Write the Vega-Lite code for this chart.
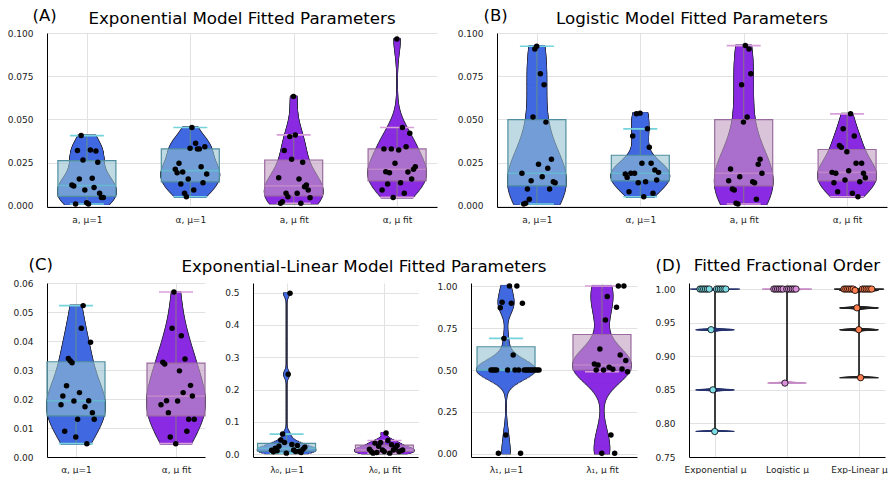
{
"$schema": "https://vega.github.io/schema/vega-lite/v6.json",
"padding": {"left": 7, "top": 7, "right": 0, "bottom": 0},
"background": "white",
"spacing": 32,
"datasets": {
"A": [
{"cat":"a, μ=1","grp":"m1","id":1,"v":0.012},{"cat":"a, μ=1","grp":"m1","id":2,"v":0.0114},{"cat":"a, μ=1","grp":"m1","id":3,"v":0.001},{"cat":"a, μ=1","grp":"m1","id":4,"v":0.0319},{"cat":"a, μ=1","grp":"m1","id":5,"v":0.0155},{"cat":"a, μ=1","grp":"m1","id":6,"v":0.0406},{"cat":"a, μ=1","grp":"m1","id":7,"v":0.0265},{"cat":"a, μ=1","grp":"m1","id":8,"v":0.0091},{"cat":"a, μ=1","grp":"m1","id":9,"v":0.0017},{"cat":"a, μ=1","grp":"m1","id":10,"v":0.001},{"cat":"a, μ=1","grp":"m1","id":11,"v":0.0323},{"cat":"a, μ=1","grp":"m1","id":12,"v":0.0159},{"cat":"a, μ=1","grp":"m1","id":13,"v":0.0106},{"cat":"a, μ=1","grp":"m1","id":14,"v":0.0317},{"cat":"a, μ=1","grp":"m1","id":15,"v":0.0251},{"cat":"a, μ=1","grp":"m1","id":16,"v":0.0072},{"cat":"a, μ=1","grp":"m1","id":17,"v":0.0048},{"cat":"a, μ=1","grp":"m1","id":18,"v":0.0048},
{"cat":"α, μ=1","grp":"m1","id":1,"v":0.0211},{"cat":"α, μ=1","grp":"m1","id":2,"v":0.0191},{"cat":"α, μ=1","grp":"m1","id":3,"v":0.0246},{"cat":"α, μ=1","grp":"m1","id":4,"v":0.0126},{"cat":"α, μ=1","grp":"m1","id":5,"v":0.0195},{"cat":"α, μ=1","grp":"m1","id":6,"v":0.0072},{"cat":"α, μ=1","grp":"m1","id":7,"v":0.0052},{"cat":"α, μ=1","grp":"m1","id":8,"v":0.0155},{"cat":"α, μ=1","grp":"m1","id":9,"v":0.0333},{"cat":"α, μ=1","grp":"m1","id":10,"v":0.0453},{"cat":"α, μ=1","grp":"m1","id":11,"v":0.0091},{"cat":"α, μ=1","grp":"m1","id":12,"v":0.0362},{"cat":"α, μ=1","grp":"m1","id":13,"v":0.0329},{"cat":"α, μ=1","grp":"m1","id":14,"v":0.0329},{"cat":"α, μ=1","grp":"m1","id":15,"v":0.0226},{"cat":"α, μ=1","grp":"m1","id":16,"v":0.0133},{"cat":"α, μ=1","grp":"m1","id":17,"v":0.0342},{"cat":"α, μ=1","grp":"m1","id":18,"v":0.0184},
{"cat":"a, μ fit","grp":"fit","id":1,"v":0.0162},{"cat":"a, μ fit","grp":"fit","id":2,"v":0.0014},{"cat":"a, μ fit","grp":"fit","id":3,"v":0.0023},{"cat":"a, μ fit","grp":"fit","id":4,"v":0.0319},{"cat":"a, μ fit","grp":"fit","id":5,"v":0.0072},{"cat":"a, μ fit","grp":"fit","id":6,"v":0.0052},{"cat":"a, μ fit","grp":"fit","id":7,"v":0.04},{"cat":"a, μ fit","grp":"fit","id":8,"v":0.0269},{"cat":"a, μ fit","grp":"fit","id":9,"v":0.0632},{"cat":"a, μ fit","grp":"fit","id":10,"v":0.041},{"cat":"a, μ fit","grp":"fit","id":11,"v":0.0072},{"cat":"a, μ fit","grp":"fit","id":12,"v":0.0155},{"cat":"a, μ fit","grp":"fit","id":13,"v":0.0014},{"cat":"a, μ fit","grp":"fit","id":14,"v":0.0251},{"cat":"a, μ fit","grp":"fit","id":15,"v":0.011},{"cat":"a, μ fit","grp":"fit","id":16,"v":0.012},{"cat":"a, μ fit","grp":"fit","id":17,"v":0.0091},{"cat":"a, μ fit","grp":"fit","id":18,"v":0.0046},
{"cat":"α, μ fit","grp":"fit","id":1,"v":0.0091},{"cat":"α, μ fit","grp":"fit","id":2,"v":0.0329},{"cat":"α, μ fit","grp":"fit","id":3,"v":0.0197},{"cat":"α, μ fit","grp":"fit","id":4,"v":0.0126},{"cat":"α, μ fit","grp":"fit","id":5,"v":0.0191},{"cat":"α, μ fit","grp":"fit","id":6,"v":0.0329},{"cat":"α, μ fit","grp":"fit","id":7,"v":0.0048},{"cat":"α, μ fit","grp":"fit","id":8,"v":0.0246},{"cat":"α, μ fit","grp":"fit","id":9,"v":0.0965},{"cat":"α, μ fit","grp":"fit","id":10,"v":0.0323},{"cat":"α, μ fit","grp":"fit","id":11,"v":0.0133},{"cat":"α, μ fit","grp":"fit","id":12,"v":0.0453},{"cat":"α, μ fit","grp":"fit","id":13,"v":0.0072},{"cat":"α, μ fit","grp":"fit","id":14,"v":0.0342},{"cat":"α, μ fit","grp":"fit","id":15,"v":0.0195},{"cat":"α, μ fit","grp":"fit","id":16,"v":0.042},{"cat":"α, μ fit","grp":"fit","id":17,"v":0.0155},{"cat":"α, μ fit","grp":"fit","id":18,"v":0.0211},{"cat":"α, μ fit","grp":"fit","id":19,"v":0.0226}
],
"B": [
{"cat":"a, μ=1","grp":"m1","id":1,"v":0.0188},{"cat":"a, μ=1","grp":"m1","id":2,"v":0.001},{"cat":"a, μ=1","grp":"m1","id":3,"v":0.0014},{"cat":"a, μ=1","grp":"m1","id":4,"v":0.0097},{"cat":"a, μ=1","grp":"m1","id":5,"v":0.0037},{"cat":"a, μ=1","grp":"m1","id":6,"v":0.0145},{"cat":"a, μ=1","grp":"m1","id":7,"v":0.0513},{"cat":"a, μ=1","grp":"m1","id":8,"v":0.0907},{"cat":"a, μ=1","grp":"m1","id":9,"v":0.0923},{"cat":"a, μ=1","grp":"m1","id":10,"v":0.024},{"cat":"a, μ=1","grp":"m1","id":11,"v":0.0764},{"cat":"a, μ=1","grp":"m1","id":12,"v":0.0168},{"cat":"a, μ=1","grp":"m1","id":13,"v":0.07},{"cat":"a, μ=1","grp":"m1","id":14,"v":0.0484},{"cat":"a, μ=1","grp":"m1","id":15,"v":0.0217},{"cat":"a, μ=1","grp":"m1","id":16,"v":0.0097},{"cat":"a, μ=1","grp":"m1","id":17,"v":0.0269},{"cat":"a, μ=1","grp":"m1","id":18,"v":0.0139},{"cat":"a, μ=1","grp":"m1","id":19,"v":0.0133},
{"cat":"α, μ=1","grp":"m1","id":1,"v":0.0184},{"cat":"α, μ=1","grp":"m1","id":2,"v":0.0164},{"cat":"α, μ=1","grp":"m1","id":3,"v":0.0081},{"cat":"α, μ=1","grp":"m1","id":4,"v":0.0188},{"cat":"α, μ=1","grp":"m1","id":5,"v":0.0404},{"cat":"α, μ=1","grp":"m1","id":6,"v":0.0188},{"cat":"α, μ=1","grp":"m1","id":7,"v":0.0532},{"cat":"α, μ=1","grp":"m1","id":8,"v":0.0133},{"cat":"α, μ=1","grp":"m1","id":9,"v":0.0536},{"cat":"α, μ=1","grp":"m1","id":10,"v":0.0246},{"cat":"α, μ=1","grp":"m1","id":11,"v":0.0052},{"cat":"α, μ=1","grp":"m1","id":12,"v":0.0139},{"cat":"α, μ=1","grp":"m1","id":13,"v":0.0445},{"cat":"α, μ=1","grp":"m1","id":14,"v":0.0338},{"cat":"α, μ=1","grp":"m1","id":15,"v":0.0246},{"cat":"α, μ=1","grp":"m1","id":16,"v":0.0072},{"cat":"α, μ=1","grp":"m1","id":17,"v":0.0207},{"cat":"α, μ=1","grp":"m1","id":18,"v":0.0149},{"cat":"α, μ=1","grp":"m1","id":19,"v":0.0193},
{"cat":"a, μ fit","grp":"fit","id":1,"v":0.0145},{"cat":"a, μ fit","grp":"fit","id":2,"v":0.0213},{"cat":"a, μ fit","grp":"fit","id":3,"v":0.0097},{"cat":"a, μ fit","grp":"fit","id":4,"v":0.0091},{"cat":"a, μ fit","grp":"fit","id":5,"v":0.0014},{"cat":"a, μ fit","grp":"fit","id":6,"v":0.001},{"cat":"a, μ fit","grp":"fit","id":7,"v":0.0168},{"cat":"a, μ fit","grp":"fit","id":8,"v":0.07},{"cat":"a, μ fit","grp":"fit","id":9,"v":0.0484},{"cat":"a, μ fit","grp":"fit","id":10,"v":0.0927},{"cat":"a, μ fit","grp":"fit","id":11,"v":0.0513},{"cat":"a, μ fit","grp":"fit","id":12,"v":0.0907},{"cat":"a, μ fit","grp":"fit","id":13,"v":0.0764},{"cat":"a, μ fit","grp":"fit","id":14,"v":0.0139},{"cat":"a, μ fit","grp":"fit","id":15,"v":0.0133},{"cat":"a, μ fit","grp":"fit","id":16,"v":0.0037},{"cat":"a, μ fit","grp":"fit","id":17,"v":0.024},{"cat":"a, μ fit","grp":"fit","id":18,"v":0.0269},{"cat":"a, μ fit","grp":"fit","id":19,"v":0.0188},
{"cat":"α, μ fit","grp":"fit","id":1,"v":0.0193},{"cat":"α, μ fit","grp":"fit","id":2,"v":0.0133},{"cat":"α, μ fit","grp":"fit","id":3,"v":0.0188},{"cat":"α, μ fit","grp":"fit","id":4,"v":0.0081},{"cat":"α, μ fit","grp":"fit","id":5,"v":0.0348},{"cat":"α, μ fit","grp":"fit","id":6,"v":0.0338},{"cat":"α, μ fit","grp":"fit","id":7,"v":0.0445},{"cat":"α, μ fit","grp":"fit","id":8,"v":0.0149},{"cat":"α, μ fit","grp":"fit","id":9,"v":0.0313},{"cat":"α, μ fit","grp":"fit","id":10,"v":0.0203},{"cat":"α, μ fit","grp":"fit","id":11,"v":0.0532},{"cat":"α, μ fit","grp":"fit","id":12,"v":0.0072},{"cat":"α, μ fit","grp":"fit","id":13,"v":0.0404},{"cat":"α, μ fit","grp":"fit","id":14,"v":0.0246},{"cat":"α, μ fit","grp":"fit","id":15,"v":0.0052},{"cat":"α, μ fit","grp":"fit","id":16,"v":0.0139},{"cat":"α, μ fit","grp":"fit","id":17,"v":0.0246},{"cat":"α, μ fit","grp":"fit","id":18,"v":0.0188},{"cat":"α, μ fit","grp":"fit","id":19,"v":0.0162}
],
"C1": [
{"cat":"α, μ=1","grp":"m1","id":1,"v":0.018},{"cat":"α, μ=1","grp":"m1","id":2,"v":0.021},{"cat":"α, μ=1","grp":"m1","id":3,"v":0.0089},{"cat":"α, μ=1","grp":"m1","id":4,"v":0.0246},{"cat":"α, μ=1","grp":"m1","id":5,"v":0.034},{"cat":"α, μ=1","grp":"m1","id":6,"v":0.0332},{"cat":"α, μ=1","grp":"m1","id":7,"v":0.0325},{"cat":"α, μ=1","grp":"m1","id":8,"v":0.0193},{"cat":"α, μ=1","grp":"m1","id":9,"v":0.0069},{"cat":"α, μ=1","grp":"m1","id":10,"v":0.013},{"cat":"α, μ=1","grp":"m1","id":11,"v":0.0222},{"cat":"α, μ=1","grp":"m1","id":12,"v":0.0444},{"cat":"α, μ=1","grp":"m1","id":13,"v":0.0522},{"cat":"α, μ=1","grp":"m1","id":14,"v":0.0173},{"cat":"α, μ=1","grp":"m1","id":15,"v":0.0046},{"cat":"α, μ=1","grp":"m1","id":16,"v":0.0194},{"cat":"α, μ=1","grp":"m1","id":17,"v":0.0396},{"cat":"α, μ=1","grp":"m1","id":18,"v":0.0153},{"cat":"α, μ=1","grp":"m1","id":19,"v":0.013},
{"cat":"α, μ fit","grp":"fit","id":1,"v":0.018},{"cat":"α, μ fit","grp":"fit","id":2,"v":0.0327},{"cat":"α, μ fit","grp":"fit","id":3,"v":0.0321},{"cat":"α, μ fit","grp":"fit","id":4,"v":0.0194},{"cat":"α, μ fit","grp":"fit","id":5,"v":0.0153},{"cat":"α, μ fit","grp":"fit","id":6,"v":0.0069},{"cat":"α, μ fit","grp":"fit","id":7,"v":0.0444},{"cat":"α, μ fit","grp":"fit","id":8,"v":0.0569},{"cat":"α, μ fit","grp":"fit","id":9,"v":0.0046},{"cat":"α, μ fit","grp":"fit","id":10,"v":0.0193},{"cat":"α, μ fit","grp":"fit","id":11,"v":0.0297},{"cat":"α, μ fit","grp":"fit","id":12,"v":0.0418},{"cat":"α, μ fit","grp":"fit","id":13,"v":0.0222},{"cat":"α, μ fit","grp":"fit","id":14,"v":0.0338},{"cat":"α, μ fit","grp":"fit","id":15,"v":0.0089},{"cat":"α, μ fit","grp":"fit","id":16,"v":0.013},{"cat":"α, μ fit","grp":"fit","id":17,"v":0.0247},{"cat":"α, μ fit","grp":"fit","id":18,"v":0.021},{"cat":"α, μ fit","grp":"fit","id":19,"v":0.013}
],
"C2": [
{"cat":"λ₀, μ=1","grp":"m1","id":1,"v":0.012},{"cat":"λ₀, μ=1","grp":"m1","id":2,"v":0.007},{"cat":"λ₀, μ=1","grp":"m1","id":3,"v":0.018},{"cat":"λ₀, μ=1","grp":"m1","id":4,"v":0.01},{"cat":"λ₀, μ=1","grp":"m1","id":5,"v":0.024},{"cat":"λ₀, μ=1","grp":"m1","id":6,"v":0.044},{"cat":"λ₀, μ=1","grp":"m1","id":7,"v":0.062},{"cat":"λ₀, μ=1","grp":"m1","id":8,"v":0.036},{"cat":"λ₀, μ=1","grp":"m1","id":9,"v":0.003},{"cat":"λ₀, μ=1","grp":"m1","id":10,"v":0.247},{"cat":"λ₀, μ=1","grp":"m1","id":11,"v":0.498},{"cat":"λ₀, μ=1","grp":"m1","id":12,"v":0.03},{"cat":"λ₀, μ=1","grp":"m1","id":13,"v":0.013},{"cat":"λ₀, μ=1","grp":"m1","id":14,"v":0.008},{"cat":"λ₀, μ=1","grp":"m1","id":15,"v":0.027},{"cat":"λ₀, μ=1","grp":"m1","id":16,"v":0.009},{"cat":"λ₀, μ=1","grp":"m1","id":17,"v":0.005},{"cat":"λ₀, μ=1","grp":"m1","id":18,"v":0.015},{"cat":"λ₀, μ=1","grp":"m1","id":19,"v":0.021},
{"cat":"λ₀, μ fit","grp":"fit","id":1,"v":0.015},{"cat":"λ₀, μ fit","grp":"fit","id":2,"v":0.008},{"cat":"λ₀, μ fit","grp":"fit","id":3,"v":0.003},{"cat":"λ₀, μ fit","grp":"fit","id":4,"v":0.034},{"cat":"λ₀, μ fit","grp":"fit","id":5,"v":0.005},{"cat":"λ₀, μ fit","grp":"fit","id":6,"v":0.024},{"cat":"λ₀, μ fit","grp":"fit","id":7,"v":0.036},{"cat":"λ₀, μ fit","grp":"fit","id":8,"v":0.013},{"cat":"λ₀, μ fit","grp":"fit","id":9,"v":0.008},{"cat":"λ₀, μ fit","grp":"fit","id":10,"v":0.065},{"cat":"λ₀, μ fit","grp":"fit","id":11,"v":0.042},{"cat":"λ₀, μ fit","grp":"fit","id":12,"v":0.003},{"cat":"λ₀, μ fit","grp":"fit","id":13,"v":0.029},{"cat":"λ₀, μ fit","grp":"fit","id":14,"v":0.013},{"cat":"λ₀, μ fit","grp":"fit","id":15,"v":0.019},{"cat":"λ₀, μ fit","grp":"fit","id":16,"v":0.027},{"cat":"λ₀, μ fit","grp":"fit","id":17,"v":0.008},{"cat":"λ₀, μ fit","grp":"fit","id":18,"v":0.01},{"cat":"λ₀, μ fit","grp":"fit","id":19,"v":0.013}
],
"C3": [
{"cat":"λ₁, μ=1","grp":"m1","id":1,"v":0.5},{"cat":"λ₁, μ=1","grp":"m1","id":2,"v":0.5},{"cat":"λ₁, μ=1","grp":"m1","id":3,"v":0.5},{"cat":"λ₁, μ=1","grp":"m1","id":4,"v":0.5},{"cat":"λ₁, μ=1","grp":"m1","id":5,"v":0.004},{"cat":"λ₁, μ=1","grp":"m1","id":6,"v":0.871},{"cat":"λ₁, μ=1","grp":"m1","id":7,"v":0.903},{"cat":"λ₁, μ=1","grp":"m1","id":8,"v":0.688},{"cat":"λ₁, μ=1","grp":"m1","id":9,"v":0.113},{"cat":"λ₁, μ=1","grp":"m1","id":10,"v":0.5},{"cat":"λ₁, μ=1","grp":"m1","id":11,"v":1.0},{"cat":"λ₁, μ=1","grp":"m1","id":12,"v":0.897},{"cat":"λ₁, μ=1","grp":"m1","id":13,"v":0.589},{"cat":"λ₁, μ=1","grp":"m1","id":14,"v":0.5},{"cat":"λ₁, μ=1","grp":"m1","id":15,"v":1.0},{"cat":"λ₁, μ=1","grp":"m1","id":16,"v":0.5},{"cat":"λ₁, μ=1","grp":"m1","id":17,"v":0.004},{"cat":"λ₁, μ=1","grp":"m1","id":18,"v":0.897},{"cat":"λ₁, μ=1","grp":"m1","id":19,"v":0.5},{"cat":"λ₁, μ=1","grp":"m1","id":20,"v":0.5},{"cat":"λ₁, μ=1","grp":"m1","id":21,"v":0.5},{"cat":"λ₁, μ=1","grp":"m1","id":22,"v":0.5},{"cat":"λ₁, μ=1","grp":"m1","id":23,"v":0.5},{"cat":"λ₁, μ=1","grp":"m1","id":24,"v":0.5},{"cat":"λ₁, μ=1","grp":"m1","id":25,"v":0.5},{"cat":"λ₁, μ=1","grp":"m1","id":26,"v":0.5},{"cat":"λ₁, μ=1","grp":"m1","id":27,"v":0.5},
{"cat":"λ₁, μ fit","grp":"fit","id":5,"v":0.536},{"cat":"λ₁, μ fit","grp":"fit","id":6,"v":0.5},{"cat":"λ₁, μ fit","grp":"fit","id":7,"v":0.53},{"cat":"λ₁, μ fit","grp":"fit","id":8,"v":0.625},{"cat":"λ₁, μ fit","grp":"fit","id":9,"v":0.004},{"cat":"λ₁, μ fit","grp":"fit","id":10,"v":0.5},{"cat":"λ₁, μ fit","grp":"fit","id":11,"v":0.798},{"cat":"λ₁, μ fit","grp":"fit","id":12,"v":0.937},{"cat":"λ₁, μ fit","grp":"fit","id":13,"v":0.516},{"cat":"λ₁, μ fit","grp":"fit","id":14,"v":0.113},{"cat":"λ₁, μ fit","grp":"fit","id":15,"v":0.504},{"cat":"λ₁, μ fit","grp":"fit","id":16,"v":0.004},{"cat":"λ₁, μ fit","grp":"fit","id":17,"v":0.873},{"cat":"λ₁, μ fit","grp":"fit","id":18,"v":1.0},{"cat":"λ₁, μ fit","grp":"fit","id":19,"v":0.589},{"cat":"λ₁, μ fit","grp":"fit","id":20,"v":0.506},{"cat":"λ₁, μ fit","grp":"fit","id":21,"v":1.0},{"cat":"λ₁, μ fit","grp":"fit","id":22,"v":0.556},{"cat":"λ₁, μ fit","grp":"fit","id":23,"v":0.49}
],
"D": [
{"cat":"Exponential μ","id":1,"v":1.0},{"cat":"Exponential μ","id":2,"v":1.0},{"cat":"Exponential μ","id":3,"v":1.0},{"cat":"Exponential μ","id":4,"v":1.0},{"cat":"Exponential μ","id":5,"v":1.0},{"cat":"Exponential μ","id":6,"v":1.0},{"cat":"Exponential μ","id":7,"v":0.9395},{"cat":"Exponential μ","id":8,"v":0.85},{"cat":"Exponential μ","id":9,"v":0.788},{"cat":"Exponential μ","id":10,"v":1.0},{"cat":"Exponential μ","id":11,"v":1.0},{"cat":"Exponential μ","id":12,"v":1.0},{"cat":"Exponential μ","id":13,"v":1.0},{"cat":"Exponential μ","id":14,"v":1.0},{"cat":"Exponential μ","id":15,"v":1.0},
{"cat":"Logistic μ","id":2,"v":1.0},{"cat":"Logistic μ","id":3,"v":1.0},{"cat":"Logistic μ","id":4,"v":1.0},{"cat":"Logistic μ","id":5,"v":1.0},{"cat":"Logistic μ","id":6,"v":1.0},{"cat":"Logistic μ","id":7,"v":1.0},{"cat":"Logistic μ","id":8,"v":0.86},{"cat":"Logistic μ","id":9,"v":1.0},{"cat":"Logistic μ","id":10,"v":1.0},{"cat":"Logistic μ","id":11,"v":1.0},{"cat":"Logistic μ","id":12,"v":1.0},{"cat":"Logistic μ","id":13,"v":1.0},{"cat":"Logistic μ","id":14,"v":1.0},
{"cat":"Exp-Linear μ","id":1,"v":1.0},{"cat":"Exp-Linear μ","id":2,"v":1.0},{"cat":"Exp-Linear μ","id":3,"v":1.0},{"cat":"Exp-Linear μ","id":4,"v":1.0},{"cat":"Exp-Linear μ","id":5,"v":1.0},{"cat":"Exp-Linear μ","id":6,"v":1.0},{"cat":"Exp-Linear μ","id":7,"v":0.998},{"cat":"Exp-Linear μ","id":8,"v":0.972},{"cat":"Exp-Linear μ","id":9,"v":0.9395},{"cat":"Exp-Linear μ","id":10,"v":0.868},{"cat":"Exp-Linear μ","id":11,"v":1.0},{"cat":"Exp-Linear μ","id":12,"v":1.0},{"cat":"Exp-Linear μ","id":13,"v":1.0},{"cat":"Exp-Linear μ","id":14,"v":1.0},{"cat":"Exp-Linear μ","id":15,"v":1.0},{"cat":"Exp-Linear μ","id":16,"v":1.0}
]
},
"vconcat": [
{"hconcat": [
{"width": 390, "height": 174, "data": {"name": "A"},
 "title": {"text": "Exponential Model Fitted Parameters", "offset": -21},
 "encoding": {
  "x": {"field": "cat", "type": "nominal", "sort": ["a, μ=1", "α, μ=1", "a, μ fit", "α, μ fit"], "scale": {"type": "point", "padding": 0.386}, "axis": {"title": null, "grid": true, "labelAngle": 0}},
  "y": {"field": "v", "type": "quantitative", "scale": {"domain": [-0.00075, 0.1], "nice": false, "zero": false}, "axis": {"title": "(A)", "values": [0, 0.025, 0.05, 0.075, 0.1], "format": ".3f", "titleX": -15, "titleY": -18}}
 },
 "layer": [
  {"transform": [{"aggregate": [{"op": "min", "field": "v", "as": "v"}, {"op": "max", "field": "v", "as": "v2"}], "groupby": ["cat"]}], "mark": {"type": "rule", "color": "#222", "strokeWidth": 1}, "encoding": {"y2": {"field": "v2"}}},
  {"transform": [{"filter": {"field": "cat", "equal": "a, μ=1"}}, {"density": "v", "groupby": ["cat"], "steps": 200, "as": ["v", "d"]}], "mark": {"type": "tick", "thickness": 2.2, "color": "#2a2a40", "opacity": 1}, "encoding": {"size": {"field": "d", "type": "quantitative", "scale": {"range": [1.6, 59.6], "zero": true}, "legend": null}}},
  {"transform": [{"filter": {"field": "cat", "equal": "a, μ=1"}}, {"density": "v", "groupby": ["cat"], "steps": 200, "as": ["v", "d"]}], "mark": {"type": "tick", "thickness": 1.6, "color": "#4169e1", "opacity": 1}, "encoding": {"size": {"field": "d", "type": "quantitative", "scale": {"range": [0, 58], "zero": true}, "legend": null}}},
  {"transform": [{"filter": {"field": "cat", "equal": "α, μ=1"}}, {"density": "v", "groupby": ["cat"], "steps": 200, "as": ["v", "d"]}], "mark": {"type": "tick", "thickness": 2.2, "color": "#2a2a40", "opacity": 1}, "encoding": {"size": {"field": "d", "type": "quantitative", "scale": {"range": [1.6, 59.6], "zero": true}, "legend": null}}},
  {"transform": [{"filter": {"field": "cat", "equal": "α, μ=1"}}, {"density": "v", "groupby": ["cat"], "steps": 200, "as": ["v", "d"]}], "mark": {"type": "tick", "thickness": 1.6, "color": "#4169e1", "opacity": 1}, "encoding": {"size": {"field": "d", "type": "quantitative", "scale": {"range": [0, 58], "zero": true}, "legend": null}}},
  {"transform": [{"filter": {"field": "cat", "equal": "a, μ fit"}}, {"density": "v", "groupby": ["cat"], "steps": 200, "as": ["v", "d"]}], "mark": {"type": "tick", "thickness": 2.2, "color": "#2a2a40", "opacity": 1}, "encoding": {"size": {"field": "d", "type": "quantitative", "scale": {"range": [1.6, 59.6], "zero": true}, "legend": null}}},
  {"transform": [{"filter": {"field": "cat", "equal": "a, μ fit"}}, {"density": "v", "groupby": ["cat"], "steps": 200, "as": ["v", "d"]}], "mark": {"type": "tick", "thickness": 1.6, "color": "#8a2be2", "opacity": 1}, "encoding": {"size": {"field": "d", "type": "quantitative", "scale": {"range": [0, 58], "zero": true}, "legend": null}}},
  {"transform": [{"filter": {"field": "cat", "equal": "α, μ fit"}}, {"density": "v", "groupby": ["cat"], "steps": 200, "as": ["v", "d"]}], "mark": {"type": "tick", "thickness": 2.2, "color": "#2a2a40", "opacity": 1}, "encoding": {"size": {"field": "d", "type": "quantitative", "scale": {"range": [1.6, 59.6], "zero": true}, "legend": null}}},
  {"transform": [{"filter": {"field": "cat", "equal": "α, μ fit"}}, {"density": "v", "groupby": ["cat"], "steps": 200, "as": ["v", "d"]}], "mark": {"type": "tick", "thickness": 1.6, "color": "#8a2be2", "opacity": 1}, "encoding": {"size": {"field": "d", "type": "quantitative", "scale": {"range": [0, 58], "zero": true}, "legend": null}}},
  {"transform": [{"filter": {"field": "grp", "equal": "m1"}}], "mark": {"type": "boxplot", "extent": 1.5, "size": 58, "outliers": false, "box": {"fill": "#94c2d0", "fillOpacity": 0.6, "stroke": "#4f8f9f", "strokeWidth": 1.2}, "median": {"color": "#63c3cf", "thickness": 1.6}, "rule": {"color": "#5d8a94", "strokeWidth": 1.2}, "ticks": {"color": "#74d3dc", "size": 34, "thickness": 1.6}}},
  {"transform": [{"filter": {"field": "grp", "equal": "fit"}}], "mark": {"type": "boxplot", "extent": 1.5, "size": 58, "outliers": false, "box": {"fill": "#c09cc0", "fillOpacity": 0.6, "stroke": "#9a6aa0", "strokeWidth": 1.2}, "median": {"color": "#c890c8", "thickness": 1.6}, "rule": {"color": "#8a6a90", "strokeWidth": 1.2}, "ticks": {"color": "#d8a0d8", "size": 34, "thickness": 1.6}}},
  {"mark": {"type": "circle", "size": 30, "color": "#000", "opacity": 1}, "encoding": {"xOffset": {"field": "id", "type": "quantitative", "scale": {"domain": [1, 19], "range": [-15, 33]}}}}
 ],
 "resolve": {"scale": {"size": "independent"}}
},
{"width": 390, "height": 174, "data": {"name": "B"},
 "title": {"text": "Logistic Model Fitted Parameters", "offset": -21},
 "encoding": {
  "x": {"field": "cat", "type": "nominal", "sort": ["a, μ=1", "α, μ=1", "a, μ fit", "α, μ fit"], "scale": {"type": "point", "padding": 0.386}, "axis": {"title": null, "grid": true, "labelAngle": 0}},
  "y": {"field": "v", "type": "quantitative", "scale": {"domain": [-0.00075, 0.1], "nice": false, "zero": false}, "axis": {"title": "(B)", "values": [0, 0.025, 0.05, 0.075, 0.1], "format": ".3f", "titleX": -14, "titleY": -18}}
 },
 "layer": [
  {"transform": [{"aggregate": [{"op": "min", "field": "v", "as": "v"}, {"op": "max", "field": "v", "as": "v2"}], "groupby": ["cat"]}], "mark": {"type": "rule", "color": "#222", "strokeWidth": 1}, "encoding": {"y2": {"field": "v2"}}},
  {"transform": [{"filter": {"field": "cat", "equal": "a, μ=1"}}, {"density": "v", "groupby": ["cat"], "steps": 200, "as": ["v", "d"]}], "mark": {"type": "tick", "thickness": 2.2, "color": "#2a2a40", "opacity": 1}, "encoding": {"size": {"field": "d", "type": "quantitative", "scale": {"range": [1.6, 59.6], "zero": true}, "legend": null}}},
  {"transform": [{"filter": {"field": "cat", "equal": "a, μ=1"}}, {"density": "v", "groupby": ["cat"], "steps": 200, "as": ["v", "d"]}], "mark": {"type": "tick", "thickness": 1.6, "color": "#4169e1", "opacity": 1}, "encoding": {"size": {"field": "d", "type": "quantitative", "scale": {"range": [0, 58], "zero": true}, "legend": null}}},
  {"transform": [{"filter": {"field": "cat", "equal": "α, μ=1"}}, {"density": "v", "groupby": ["cat"], "steps": 200, "as": ["v", "d"]}], "mark": {"type": "tick", "thickness": 2.2, "color": "#2a2a40", "opacity": 1}, "encoding": {"size": {"field": "d", "type": "quantitative", "scale": {"range": [1.6, 59.6], "zero": true}, "legend": null}}},
  {"transform": [{"filter": {"field": "cat", "equal": "α, μ=1"}}, {"density": "v", "groupby": ["cat"], "steps": 200, "as": ["v", "d"]}], "mark": {"type": "tick", "thickness": 1.6, "color": "#4169e1", "opacity": 1}, "encoding": {"size": {"field": "d", "type": "quantitative", "scale": {"range": [0, 58], "zero": true}, "legend": null}}},
  {"transform": [{"filter": {"field": "cat", "equal": "a, μ fit"}}, {"density": "v", "groupby": ["cat"], "steps": 200, "as": ["v", "d"]}], "mark": {"type": "tick", "thickness": 2.2, "color": "#2a2a40", "opacity": 1}, "encoding": {"size": {"field": "d", "type": "quantitative", "scale": {"range": [1.6, 59.6], "zero": true}, "legend": null}}},
  {"transform": [{"filter": {"field": "cat", "equal": "a, μ fit"}}, {"density": "v", "groupby": ["cat"], "steps": 200, "as": ["v", "d"]}], "mark": {"type": "tick", "thickness": 1.6, "color": "#8a2be2", "opacity": 1}, "encoding": {"size": {"field": "d", "type": "quantitative", "scale": {"range": [0, 58], "zero": true}, "legend": null}}},
  {"transform": [{"filter": {"field": "cat", "equal": "α, μ fit"}}, {"density": "v", "groupby": ["cat"], "steps": 200, "as": ["v", "d"]}], "mark": {"type": "tick", "thickness": 2.2, "color": "#2a2a40", "opacity": 1}, "encoding": {"size": {"field": "d", "type": "quantitative", "scale": {"range": [1.6, 59.6], "zero": true}, "legend": null}}},
  {"transform": [{"filter": {"field": "cat", "equal": "α, μ fit"}}, {"density": "v", "groupby": ["cat"], "steps": 200, "as": ["v", "d"]}], "mark": {"type": "tick", "thickness": 1.6, "color": "#8a2be2", "opacity": 1}, "encoding": {"size": {"field": "d", "type": "quantitative", "scale": {"range": [0, 58], "zero": true}, "legend": null}}},
  {"transform": [{"filter": {"field": "grp", "equal": "m1"}}], "mark": {"type": "boxplot", "extent": 1.5, "size": 58, "outliers": false, "box": {"fill": "#94c2d0", "fillOpacity": 0.6, "stroke": "#4f8f9f", "strokeWidth": 1.2}, "median": {"color": "#63c3cf", "thickness": 1.6}, "rule": {"color": "#5d8a94", "strokeWidth": 1.2}, "ticks": {"color": "#74d3dc", "size": 34, "thickness": 1.6}}},
  {"transform": [{"filter": {"field": "grp", "equal": "fit"}}], "mark": {"type": "boxplot", "extent": 1.5, "size": 58, "outliers": false, "box": {"fill": "#c09cc0", "fillOpacity": 0.6, "stroke": "#9a6aa0", "strokeWidth": 1.2}, "median": {"color": "#c890c8", "thickness": 1.6}, "rule": {"color": "#8a6a90", "strokeWidth": 1.2}, "ticks": {"color": "#d8a0d8", "size": 34, "thickness": 1.6}}},
  {"mark": {"type": "circle", "size": 30, "color": "#000", "opacity": 1}, "encoding": {"xOffset": {"field": "id", "type": "quantitative", "scale": {"domain": [1, 19], "range": [-15, 33]}}}}
 ],
 "resolve": {"scale": {"size": "independent"}}
}
], "spacing": 20},
{"hconcat": [
 {"title": {"text": "Exponential-Linear Model Fitted Parameters", "offset": -20, "anchor": "middle", "frame": "bounds", "dx": 39}, "hconcat": [
  {"width": 158, "height": 174, "data": {"name": "C1"},
   "encoding": {
    "x": {"field": "cat", "type": "nominal", "sort": ["α, μ=1", "α, μ fit"], "scale": {"type": "point", "padding": 0.29}, "axis": {"title": null, "grid": true, "labelAngle": 0}},
    "y": {"field": "v", "type": "quantitative", "scale": {"domain": [0, 0.06], "nice": false, "zero": false}, "axis": {"title": "(C)", "values": [0, 0.01, 0.02, 0.03, 0.04, 0.05, 0.06], "format": ".2f", "titleX": -19, "titleY": -19}}
   },
   "layer": [
    {"transform": [{"aggregate": [{"op": "min", "field": "v", "as": "v"}, {"op": "max", "field": "v", "as": "v2"}], "groupby": ["cat"]}], "mark": {"type": "rule", "color": "#222", "strokeWidth": 1}, "encoding": {"y2": {"field": "v2"}}},
    {"transform": [{"filter": {"field": "cat", "equal": "α, μ=1"}}, {"density": "v", "groupby": ["cat"], "steps": 200, "as": ["v", "d"]}], "mark": {"type": "tick", "thickness": 2.2, "color": "#2a2a40", "opacity": 1}, "encoding": {"size": {"field": "d", "type": "quantitative", "scale": {"range": [1.6, 59.6], "zero": true}, "legend": null}}},
    {"transform": [{"filter": {"field": "cat", "equal": "α, μ=1"}}, {"density": "v", "groupby": ["cat"], "steps": 200, "as": ["v", "d"]}], "mark": {"type": "tick", "thickness": 1.6, "color": "#4169e1", "opacity": 1}, "encoding": {"size": {"field": "d", "type": "quantitative", "scale": {"range": [0, 58], "zero": true}, "legend": null}}},
    {"transform": [{"filter": {"field": "cat", "equal": "α, μ fit"}}, {"density": "v", "groupby": ["cat"], "steps": 200, "as": ["v", "d"]}], "mark": {"type": "tick", "thickness": 2.2, "color": "#2a2a40", "opacity": 1}, "encoding": {"size": {"field": "d", "type": "quantitative", "scale": {"range": [1.6, 59.6], "zero": true}, "legend": null}}},
    {"transform": [{"filter": {"field": "cat", "equal": "α, μ fit"}}, {"density": "v", "groupby": ["cat"], "steps": 200, "as": ["v", "d"]}], "mark": {"type": "tick", "thickness": 1.6, "color": "#8a2be2", "opacity": 1}, "encoding": {"size": {"field": "d", "type": "quantitative", "scale": {"range": [0, 58], "zero": true}, "legend": null}}},
    {"transform": [{"filter": {"field": "grp", "equal": "m1"}}], "mark": {"type": "boxplot", "extent": 1.5, "size": 58, "outliers": false, "box": {"fill": "#94c2d0", "fillOpacity": 0.6, "stroke": "#4f8f9f", "strokeWidth": 1.2}, "median": {"color": "#63c3cf", "thickness": 1.6}, "rule": {"color": "#5d8a94", "strokeWidth": 1.2}, "ticks": {"color": "#74d3dc", "size": 34, "thickness": 1.6}}},
    {"transform": [{"filter": {"field": "grp", "equal": "fit"}}], "mark": {"type": "boxplot", "extent": 1.5, "size": 58, "outliers": false, "box": {"fill": "#c09cc0", "fillOpacity": 0.6, "stroke": "#9a6aa0", "strokeWidth": 1.2}, "median": {"color": "#c890c8", "thickness": 1.6}, "rule": {"color": "#8a6a90", "strokeWidth": 1.2}, "ticks": {"color": "#d8a0d8", "size": 34, "thickness": 1.6}}},
    {"mark": {"type": "circle", "size": 30, "color": "#000", "opacity": 1}, "encoding": {"xOffset": {"field": "id", "type": "quantitative", "scale": {"domain": [1, 19], "range": [-15, 33]}}}}
   ],
   "resolve": {"scale": {"size": "independent"}}
  },
  {"width": 165, "height": 174, "data": {"name": "C2"},
   "encoding": {
    "x": {"field": "cat", "type": "nominal", "sort": ["λ₀, μ=1", "λ₀, μ fit"], "scale": {"type": "point", "padding": 0.343}, "axis": {"title": null, "grid": true, "labelAngle": 0}},
    "y": {"field": "v", "type": "quantitative", "scale": {"domain": [-0.009, 0.53], "nice": false, "zero": false}, "axis": {"title": null, "values": [0, 0.1, 0.2, 0.3, 0.4, 0.5], "format": ".1f"}}
   },
   "layer": [
    {"transform": [{"aggregate": [{"op": "min", "field": "v", "as": "v"}, {"op": "max", "field": "v", "as": "v2"}], "groupby": ["cat"]}], "mark": {"type": "rule", "color": "#000", "strokeWidth": 1.2}, "encoding": {"y2": {"field": "v2"}}},
    {"transform": [{"filter": {"field": "cat", "equal": "λ₀, μ=1"}}, {"density": "v", "groupby": ["cat"], "steps": 200, "as": ["v", "d"]}], "mark": {"type": "tick", "thickness": 2.2, "color": "#2a2a40", "opacity": 1}, "encoding": {"size": {"field": "d", "type": "quantitative", "scale": {"range": [1.6, 59.6], "zero": true}, "legend": null}}},
    {"transform": [{"filter": {"field": "cat", "equal": "λ₀, μ=1"}}, {"density": "v", "groupby": ["cat"], "steps": 200, "as": ["v", "d"]}], "mark": {"type": "tick", "thickness": 1.6, "color": "#4169e1", "opacity": 1}, "encoding": {"size": {"field": "d", "type": "quantitative", "scale": {"range": [0, 58], "zero": true}, "legend": null}}},
    {"transform": [{"filter": {"field": "cat", "equal": "λ₀, μ fit"}}, {"density": "v", "groupby": ["cat"], "steps": 200, "as": ["v", "d"]}], "mark": {"type": "tick", "thickness": 2.2, "color": "#2a2a40", "opacity": 1}, "encoding": {"size": {"field": "d", "type": "quantitative", "scale": {"range": [1.6, 59.6], "zero": true}, "legend": null}}},
    {"transform": [{"filter": {"field": "cat", "equal": "λ₀, μ fit"}}, {"density": "v", "groupby": ["cat"], "steps": 200, "as": ["v", "d"]}], "mark": {"type": "tick", "thickness": 1.6, "color": "#8a2be2", "opacity": 1}, "encoding": {"size": {"field": "d", "type": "quantitative", "scale": {"range": [0, 58], "zero": true}, "legend": null}}},
    {"transform": [{"filter": {"field": "grp", "equal": "m1"}}], "mark": {"type": "boxplot", "extent": 1.5, "size": 58, "outliers": false, "box": {"fill": "#94c2d0", "fillOpacity": 0.6, "stroke": "#4f8f9f", "strokeWidth": 1.2}, "median": {"color": "#63c3cf", "thickness": 1.6}, "rule": {"color": "#5d8a94", "strokeWidth": 1.2}, "ticks": {"color": "#74d3dc", "size": 34, "thickness": 1.6}}},
    {"transform": [{"filter": {"field": "grp", "equal": "fit"}}], "mark": {"type": "boxplot", "extent": 1.5, "size": 58, "outliers": false, "box": {"fill": "#c09cc0", "fillOpacity": 0.6, "stroke": "#9a6aa0", "strokeWidth": 1.2}, "median": {"color": "#c890c8", "thickness": 1.6}, "rule": {"color": "#8a6a90", "strokeWidth": 1.2}, "ticks": {"color": "#d8a0d8", "size": 34, "thickness": 1.6}}},
    {"mark": {"type": "circle", "size": 30, "color": "#000", "opacity": 1}, "encoding": {"xOffset": {"field": "id", "type": "quantitative", "scale": {"domain": [1, 19], "range": [-15, 33]}}}}
   ],
   "resolve": {"scale": {"size": "independent"}}
  },
  {"width": 166, "height": 174, "data": {"name": "C3"},
   "encoding": {
    "x": {"field": "cat", "type": "nominal", "sort": ["λ₁, μ=1", "λ₁, μ fit"], "scale": {"type": "point", "padding": 0.365}, "axis": {"title": null, "grid": true, "labelAngle": 0}},
    "y": {"field": "v", "type": "quantitative", "scale": {"domain": [-0.018, 1.018], "nice": false, "zero": false}, "axis": {"title": null, "values": [0, 0.25, 0.5, 0.75, 1], "format": ".2f"}}
   },
   "layer": [
    {"transform": [{"aggregate": [{"op": "min", "field": "v", "as": "v"}, {"op": "max", "field": "v", "as": "v2"}], "groupby": ["cat"]}], "mark": {"type": "rule", "color": "#000", "strokeWidth": 1.2}, "encoding": {"y2": {"field": "v2"}}},
    {"transform": [{"filter": {"field": "cat", "equal": "λ₁, μ=1"}}, {"density": "v", "groupby": ["cat"], "steps": 200, "as": ["v", "d"]}], "mark": {"type": "tick", "thickness": 2.2, "color": "#2a2a40", "opacity": 1}, "encoding": {"size": {"field": "d", "type": "quantitative", "scale": {"range": [1.6, 59.6], "zero": true}, "legend": null}}},
    {"transform": [{"filter": {"field": "cat", "equal": "λ₁, μ=1"}}, {"density": "v", "groupby": ["cat"], "steps": 200, "as": ["v", "d"]}], "mark": {"type": "tick", "thickness": 1.6, "color": "#4169e1", "opacity": 1}, "encoding": {"size": {"field": "d", "type": "quantitative", "scale": {"range": [0, 58], "zero": true}, "legend": null}}},
    {"transform": [{"filter": {"field": "cat", "equal": "λ₁, μ fit"}}, {"density": "v", "groupby": ["cat"], "steps": 200, "as": ["v", "d"]}], "mark": {"type": "tick", "thickness": 2.2, "color": "#2a2a40", "opacity": 1}, "encoding": {"size": {"field": "d", "type": "quantitative", "scale": {"range": [1.6, 59.6], "zero": true}, "legend": null}}},
    {"transform": [{"filter": {"field": "cat", "equal": "λ₁, μ fit"}}, {"density": "v", "groupby": ["cat"], "steps": 200, "as": ["v", "d"]}], "mark": {"type": "tick", "thickness": 1.6, "color": "#8a2be2", "opacity": 1}, "encoding": {"size": {"field": "d", "type": "quantitative", "scale": {"range": [0, 58], "zero": true}, "legend": null}}},
    {"transform": [{"filter": {"field": "grp", "equal": "m1"}}], "mark": {"type": "boxplot", "extent": 1.5, "size": 58, "outliers": false, "box": {"fill": "#94c2d0", "fillOpacity": 0.6, "stroke": "#4f8f9f", "strokeWidth": 1.2}, "median": {"color": "#63c3cf", "thickness": 1.6}, "rule": {"color": "#5d8a94", "strokeWidth": 1.2}, "ticks": {"color": "#74d3dc", "size": 34, "thickness": 1.6}}},
    {"transform": [{"filter": {"field": "grp", "equal": "fit"}}], "mark": {"type": "boxplot", "extent": 1.5, "size": 58, "outliers": false, "box": {"fill": "#c09cc0", "fillOpacity": 0.6, "stroke": "#9a6aa0", "strokeWidth": 1.2}, "median": {"color": "#c890c8", "thickness": 1.6}, "rule": {"color": "#8a6a90", "strokeWidth": 1.2}, "ticks": {"color": "#d8a0d8", "size": 34, "thickness": 1.6}}},
    {"mark": {"type": "circle", "size": 30, "color": "#000", "opacity": 1}, "encoding": {"xOffset": {"field": "id", "type": "quantitative", "scale": {"domain": [1, 27], "range": [-14, 32]}}}}
   ],
   "resolve": {"scale": {"size": "independent"}}
  }
 ], "spacing": 18},
 {"width": 196, "height": 174, "data": {"name": "D"},
  "title": {"text": "Fitted Fractional Order", "offset": -18},
  "encoding": {
   "x": {"field": "cat", "type": "nominal", "sort": ["Exponential μ", "Logistic μ", "Exp-Linear μ"], "scale": {"type": "point", "padding": 0.361}, "axis": {"title": null, "grid": true, "labelAngle": 0}},
   "y": {"field": "v", "type": "quantitative", "scale": {"domain": [0.75, 1.009], "nice": false, "zero": false}, "axis": {"title": "(D)", "values": [0.75, 0.8, 0.85, 0.9, 0.95, 1], "format": ".2f", "titleX": -34, "titleY": -18}}
  },
  "layer": [
   {"transform": [{"aggregate": [{"op": "min", "field": "v", "as": "v"}, {"op": "max", "field": "v", "as": "v2"}], "groupby": ["cat"]}], "mark": {"type": "rule", "color": "#000", "strokeWidth": 1.5}, "encoding": {"y2": {"field": "v2"}}},
   {"transform": [{"filter": {"field": "cat", "equal": "Exponential μ"}}, {"density": "v", "groupby": ["cat"], "steps": 1000, "bandwidth": 0.0003, "as": ["v", "d"]}], "mark": {"type": "tick", "thickness": 1, "color": "#27336e", "opacity": 1}, "encoding": {"size": {"field": "d", "type": "quantitative", "scale": {"type": "pow", "exponent": 0.1, "range": [0, 50], "zero": true}, "legend": null}}},
   {"transform": [{"filter": {"field": "cat", "equal": "Logistic μ"}}, {"density": "v", "groupby": ["cat"], "steps": 1000, "bandwidth": 0.0003, "as": ["v", "d"]}], "mark": {"type": "tick", "thickness": 1, "color": "#c58ac5", "opacity": 1}, "encoding": {"size": {"field": "d", "type": "quantitative", "scale": {"type": "pow", "exponent": 0.1, "range": [0, 50], "zero": true}, "legend": null}}},
   {"transform": [{"filter": {"field": "cat", "equal": "Exp-Linear μ"}}, {"density": "v", "groupby": ["cat"], "steps": 1000, "bandwidth": 0.0003, "as": ["v", "d"]}], "mark": {"type": "tick", "thickness": 1, "color": "#222222", "opacity": 1}, "encoding": {"size": {"field": "d", "type": "quantitative", "scale": {"type": "pow", "exponent": 0.1, "range": [0, 50], "zero": true}, "legend": null}}},
   {"mark": {"type": "circle", "size": 40, "opacity": 1, "stroke": "#000", "strokeWidth": 0.8}, "encoding": {"xOffset": {"field": "id", "type": "quantitative", "scale": {"domain": [1, 16], "range": [-11, 29]}}, "color": {"field": "cat", "type": "nominal", "scale": {"domain": ["Exponential μ", "Logistic μ", "Exp-Linear μ"], "range": ["#7fdde6", "#d98fd9", "#ff7f50"]}, "legend": null}}}
  ],
  "resolve": {"scale": {"size": "independent"}}
 }
], "spacing": 17}
],
"config": {
 "font": "DejaVu Sans",
 "view": {"stroke": null},
 "title": {"font": "DejaVu Sans", "fontSize": 16.7, "fontWeight": "normal", "color": "#000", "frame": "group"},
 "axis": {"labelFont": "DejaVu Sans", "labelFontSize": 9, "labelColor": "#222", "domainColor": "#000", "domainWidth": 1, "gridColor": "#e2e2e2", "gridWidth": 1, "ticks": false, "tickSize": 0, "titleFont": "DejaVu Sans", "titleFontSize": 16.5, "titleFontWeight": "normal", "titleColor": "#000"},
 "axisY": {"labelPadding": 14, "titleAngle": 0, "titleAlign": "left", "titleBaseline": "middle"},
 "axisX": {"labelPadding": 8, "labelAngle": 0}
}
}
